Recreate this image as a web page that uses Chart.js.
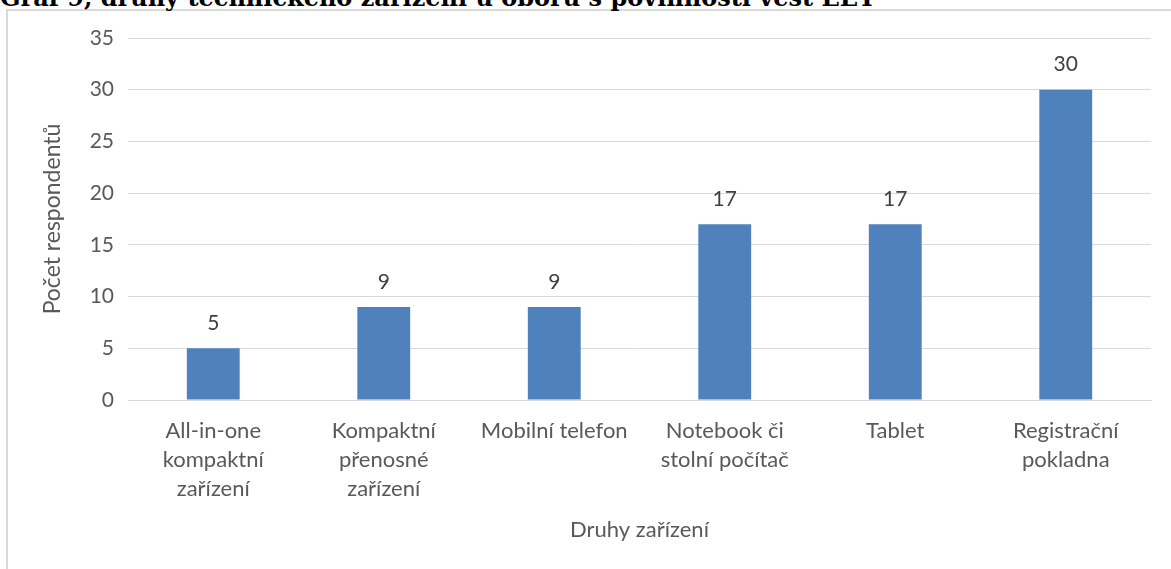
<!DOCTYPE html>
<html>
<head>
<meta charset="utf-8">
<script src="https://cdn.jsdelivr.net/npm/chart.js@4/dist/chart.umd.min.js"></script>
<style>
  html, body { margin: 0; padding: 0; background: #fff; overflow: hidden; }
  #wrap { position: relative; width: 1171px; height: 569px; overflow: hidden; }
  #frame { position: absolute; left: 6px; top: 9px; width: 1300px; height: 700px; border: 2px solid #d9d9d9; box-sizing: border-box; }
  #title { position: absolute; left: 0px; top: -17px; font-family: "DejaVu Serif", serif; font-weight: bold; font-size: 24px; color: #000; white-space: nowrap; }
  #c { position: absolute; left: 0; top: 0; }
</style>
</head>
<body>
<div id="wrap">
  <div id="frame"></div>
  <div id="title">Graf 9, druhy technického zařízení u oborů s povinností vést EET</div>
  <canvas id="c" width="1171" height="569"></canvas>
</div>
<script>
const categories = [
  ["All-in-one", "kompaktní", "zařízení"],
  ["Kompaktní", "přenosné", "zařízení"],
  ["Mobilní telefon"],
  ["Notebook či", "stolní počítač"],
  ["Tablet"],
  ["Registrační", "pokladna"]
];
const values = [5, 9, 9, 17, 17, 30];
const yTitle = "Počet respondentů";
const xTitle = "Druhy zařízení";

const FONT = "Lato, Carlito, 'Open Sans', sans-serif";

const valueLabels = {
  id: 'valueLabels',
  afterDatasetsDraw(chart) {
    const ctx = chart.ctx;
    const meta = chart.getDatasetMeta(0);
    ctx.save();
    ctx.font = "21px " + FONT;
    ctx.fillStyle = "#404040";
    ctx.textAlign = "center";
    ctx.textBaseline = "middle";
    meta.data.forEach((bar, i) => {
      ctx.fillText(String(values[i]), bar.x, bar.y - 25);
    });
    ctx.restore();
  }
};

new Chart(document.getElementById('c'), {
  type: 'bar',
  data: {
    labels: categories,
    datasets: [{
      data: values,
      backgroundColor: '#4f81bd',
      barPercentage: 0.31,
      categoryPercentage: 1.0
    }]
  },
  options: {
    responsive: false,
    animation: false,
    devicePixelRatio: 1,
    layout: { padding: { left: 8, right: 20, top: 38, bottom: 0 } },
    plugins: { legend: { display: false }, tooltip: { enabled: false } },
    scales: {
      y: {
        min: 0, max: 35,
        ticks: { stepSize: 5, padding: 14, color: '#595959', font: { family: FONT, size: 21 } },
        grid: { color: '#d9d9d9', drawTicks: false, lineWidth: 1 },
        border: { display: false },
        title: { display: true, text: yTitle, color: '#595959', font: { family: FONT, size: 23 }, padding: { top: 31, bottom: 0 } },
        afterFit(s) { s.width = 120; }
      },
      x: {
        ticks: { padding: 17, color: '#595959', maxRotation: 0, autoSkip: false, font: { family: FONT, size: 22, lineHeight: 1.3 } },
        grid: { display: false, drawTicks: false },
        border: { display: true, color: '#d9d9d9' },
        title: { display: true, text: xTitle, color: '#595959', font: { family: FONT, size: 22 }, padding: { top: 0, bottom: 26 } },
        afterFit(s) { s.height = 169; }
      }
    }
  },
  plugins: [valueLabels]
});
</script>
</body>
</html>
